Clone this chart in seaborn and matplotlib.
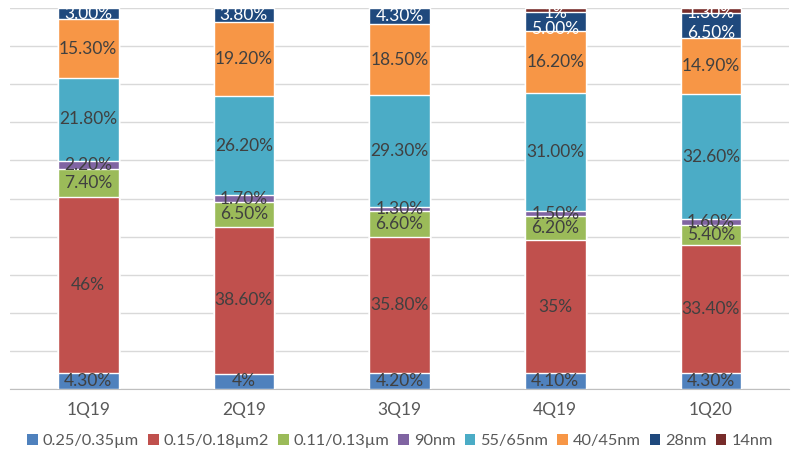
import numpy as np
import pandas as pd
import seaborn as sns
import matplotlib.pyplot as plt
from matplotlib.patches import Patch

quarters = ["1Q19", "2Q19", "3Q19", "4Q19", "1Q20"]

# share of each node per quarter, as printed on the chart
node_025 = ["4.30%", "4%", "4.20%", "4.10%", "4.30%"]
node_015 = ["46%", "38.60%", "35.80%", "35%", "33.40%"]
node_011 = ["7.40%", "6.50%", "6.60%", "6.20%", "5.40%"]
node_90 = ["2.20%", "1.70%", "1.30%", "1.50%", "1.60%"]
node_55 = ["21.80%", "26.20%", "29.30%", "31.00%", "32.60%"]
node_40 = ["15.30%", "19.20%", "18.50%", "16.20%", "14.90%"]
node_28 = ["3.00%", "3.80%", "4.30%", "5.00%", "6.50%"]
node_14 = ["", "", "", "1%", "1.30%"]

series_names = ["0.25/0.35µm", "0.15/0.18µm2", "0.11/0.13µm", "90nm",
                "55/65nm", "40/45nm", "28nm", "14nm"]
series_labels = [node_025, node_015, node_011, node_90, node_55, node_40, node_28, node_14]
colors = ["#4F81BD", "#C0504D", "#9BBB59", "#8064A2", "#4BACC6", "#F79646",
          "#1F497D", "#772C2A"]
text_colors = ["#404040"] * 6 + ["white", "white"]


def to_num(s):
    return float(s.rstrip("%")) if s else 0.0


vals = np.array([[to_num(s) for s in lab] for lab in series_labels])
cum = vals.cumsum(axis=0)

sns.set_style("white")
plt.rcParams["font.family"] = ["Lato", "DejaVu Sans"]

fig = plt.figure(figsize=(8, 4.66), dpi=100)
ax = fig.add_axes([0.013, 0.165, 0.973, 0.818])

# draw cumulative totals from the top down so each layer shows its own segment
for i in range(len(series_names) - 1, -1, -1):
    df = pd.DataFrame({"quarter": quarters, "total": cum[i]})
    sns.barplot(data=df, x="quarter", y="total", color=colors[i], width=0.39,
                saturation=1, ax=ax, zorder=3)

for i in range(len(series_names)):
    for j in range(len(quarters)):
        if not series_labels[i][j]:
            continue
        y = cum[i, j] - vals[i, j] / 2
        # thin top segments: labels were pulled apart by hand in the original
        if i == 7:
            y = min(y, 98.7)
        elif i == 6 and vals[7, j] > 0:
            y -= 2.0
        ax.text(j, y, series_labels[i][j], ha="center", va="center",
                fontsize=12.5, color=text_colors[i], zorder=5)

ax.set_ylim(0, 100)
ax.set_xlim(-0.5, 4.5)
ax.set_yticks(np.arange(0, 101, 10))
ax.set_yticklabels([])
ax.tick_params(axis="y", length=0)
ax.tick_params(axis="x", length=0, pad=9, labelsize=12.5, labelcolor="#595959")
ax.yaxis.grid(True, color="#D9D9D9", linewidth=1)
ax.set_axisbelow(True)
ax.set_xlabel("")
ax.set_ylabel("")
for side in ["top", "left", "right"]:
    ax.spines[side].set_visible(False)
ax.spines["bottom"].set_color("#BFBFBF")

handles = [Patch(facecolor=c, edgecolor="none", label=n) for c, n in zip(colors, series_names)]
fig.legend(handles=handles, loc="center", bbox_to_anchor=(0.5, 0.054), ncol=8,
           frameon=False, fontsize=11.8, handlelength=0.65, handleheight=0.65,
           handletextpad=0.3, columnspacing=0.55, labelcolor="#595959")

fig.savefig("out.png", dpi=100)
